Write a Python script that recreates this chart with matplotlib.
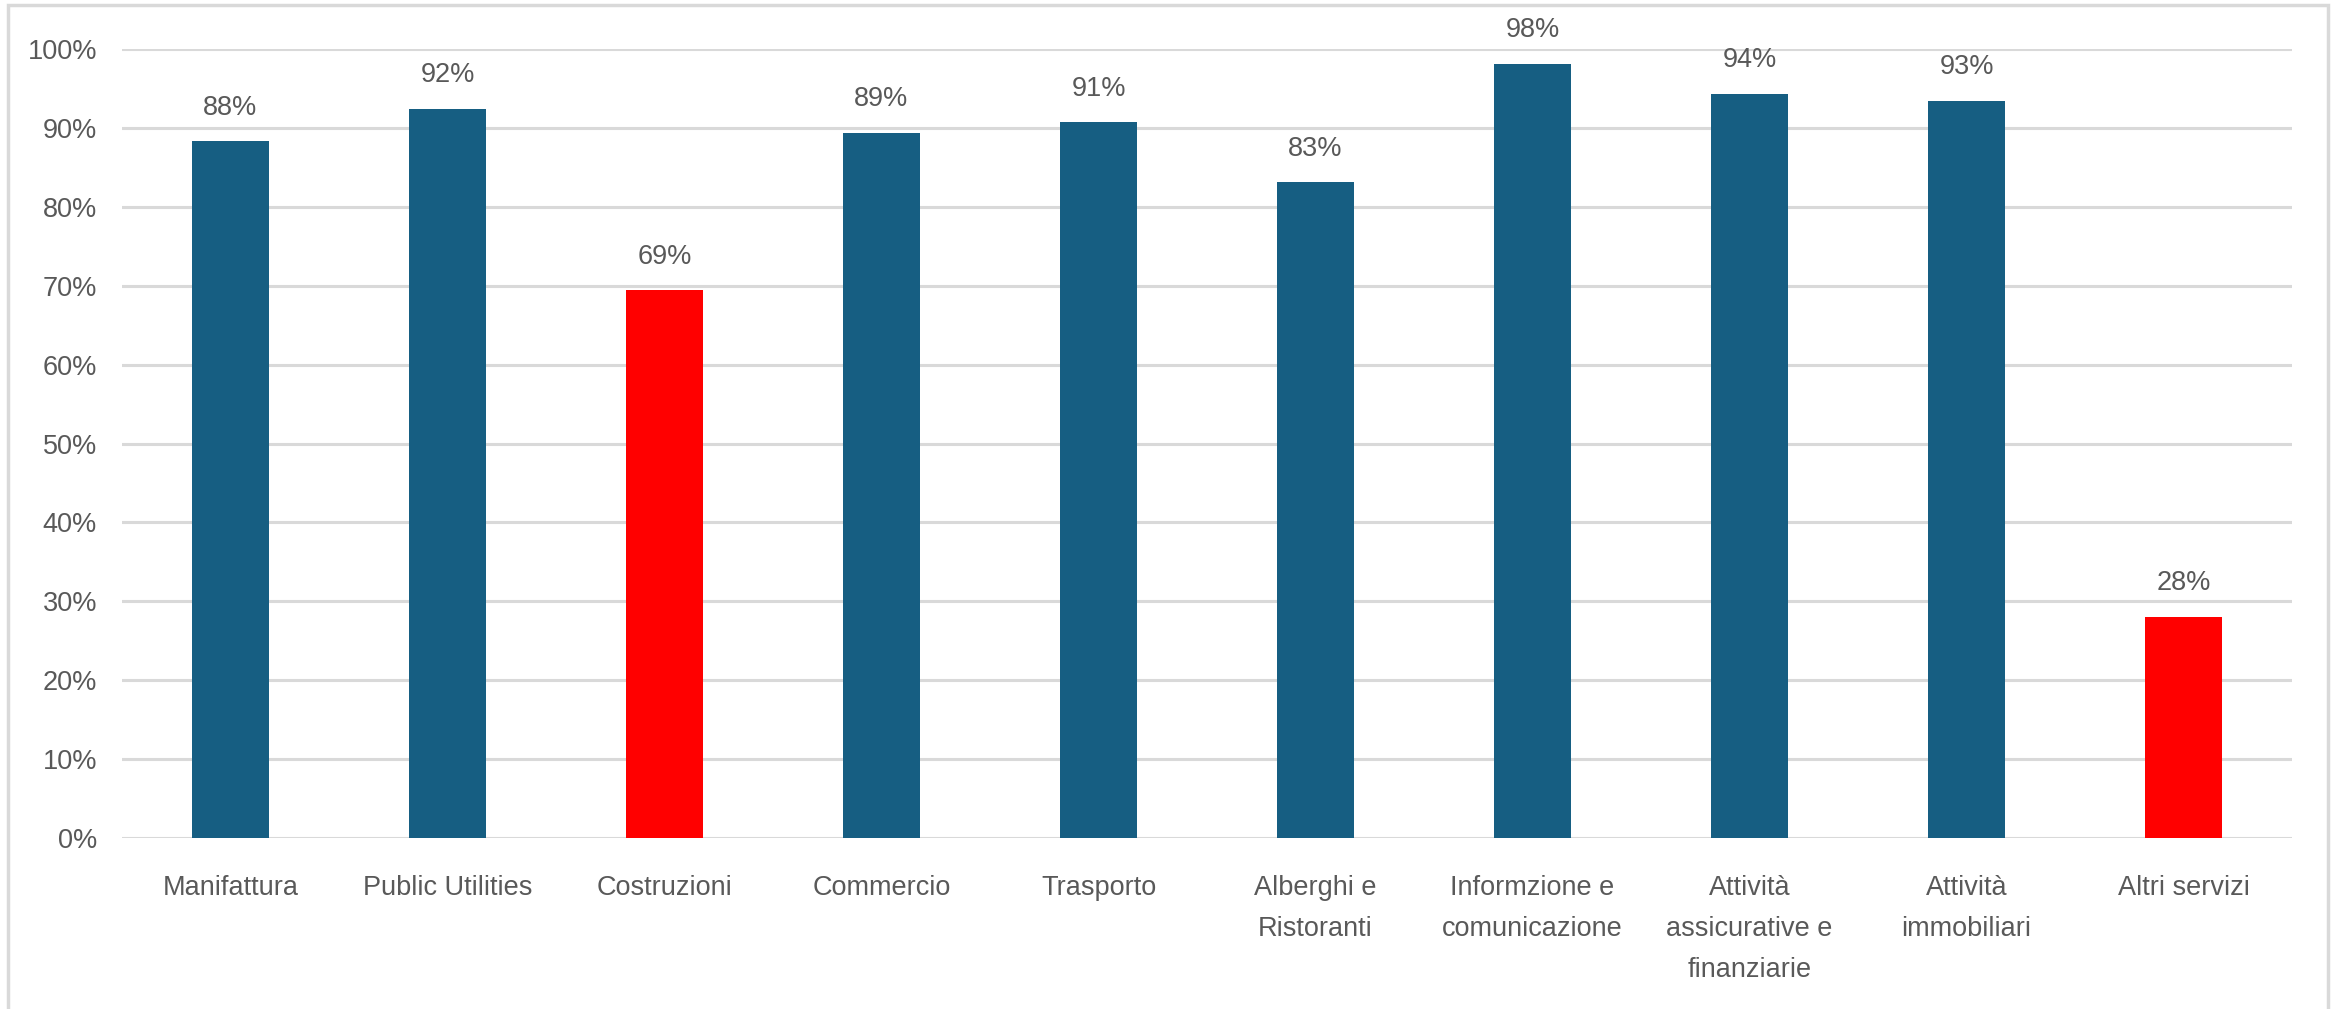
import matplotlib.pyplot as plt
from matplotlib.patches import Rectangle
from matplotlib.ticker import MultipleLocator, PercentFormatter

plt.rcParams['font.family'] = ['Liberation Sans', 'DejaVu Sans']

categories = ['Manifattura', 'Public Utilities', 'Costruzioni', 'Commercio', 'Trasporto',
              'Alberghi e\nRistoranti', 'Informzione e\ncomunicazione',
              'Attività\nassicurative e\nfinanziarie', 'Attività\nimmobiliari', 'Altri servizi']
values = [0.883, 0.924, 0.694, 0.894, 0.907, 0.831, 0.981, 0.943, 0.934, 0.280]
highlight = ['Costruzioni', 'Altri servizi']

blue = '#165e82'
red = '#ff0000'
grey_text = '#595959'
grid_col = '#d9d9d9'

fig = plt.figure(figsize=(23.36, 10.09), dpi=100)
ax = fig.add_axes([0.0522, 0.1695, 0.9290, 0.7819])

colors = [red if c in highlight else blue for c in categories]
x = range(len(categories))
bars = ax.bar(x, values, width=0.355, color=colors, zorder=3)

for b, v in zip(bars, values):
    ax.annotate('{:.0%}'.format(v), (b.get_x() + b.get_width() / 2, v),
                xytext=(0, 15), textcoords='offset points', ha='center', va='bottom',
                fontsize=19.5, color=grey_text)

ax.set_xlim(-0.5, len(categories) - 0.5)
ax.set_ylim(0, 1)
ax.yaxis.set_major_locator(MultipleLocator(0.1))
ax.yaxis.set_major_formatter(PercentFormatter(1.0, decimals=0))
ax.grid(axis='y', color=grid_col, linewidth=2.2, zorder=0)
ax.set_axisbelow(True)

ax.set_xticks(list(x))
ax.set_xticklabels(categories, linespacing=1.75, va='top')
ax.tick_params(axis='x', length=0, pad=27, labelsize=19.5, labelcolor=grey_text)
ax.tick_params(axis='y', length=0, pad=18, labelsize=19.5, labelcolor=grey_text)

for s in ax.spines.values():
    s.set_visible(False)

# light frame around the chart, bottom edge cut off
fig.patches.append(Rectangle((8 / 2336, -0.05), (2328 - 8) / 2336, 1.05 - 5 / 1009,
                             transform=fig.transFigure, fill=False,
                             edgecolor=grid_col, linewidth=2.5))

fig.savefig('out.png', dpi=100)
